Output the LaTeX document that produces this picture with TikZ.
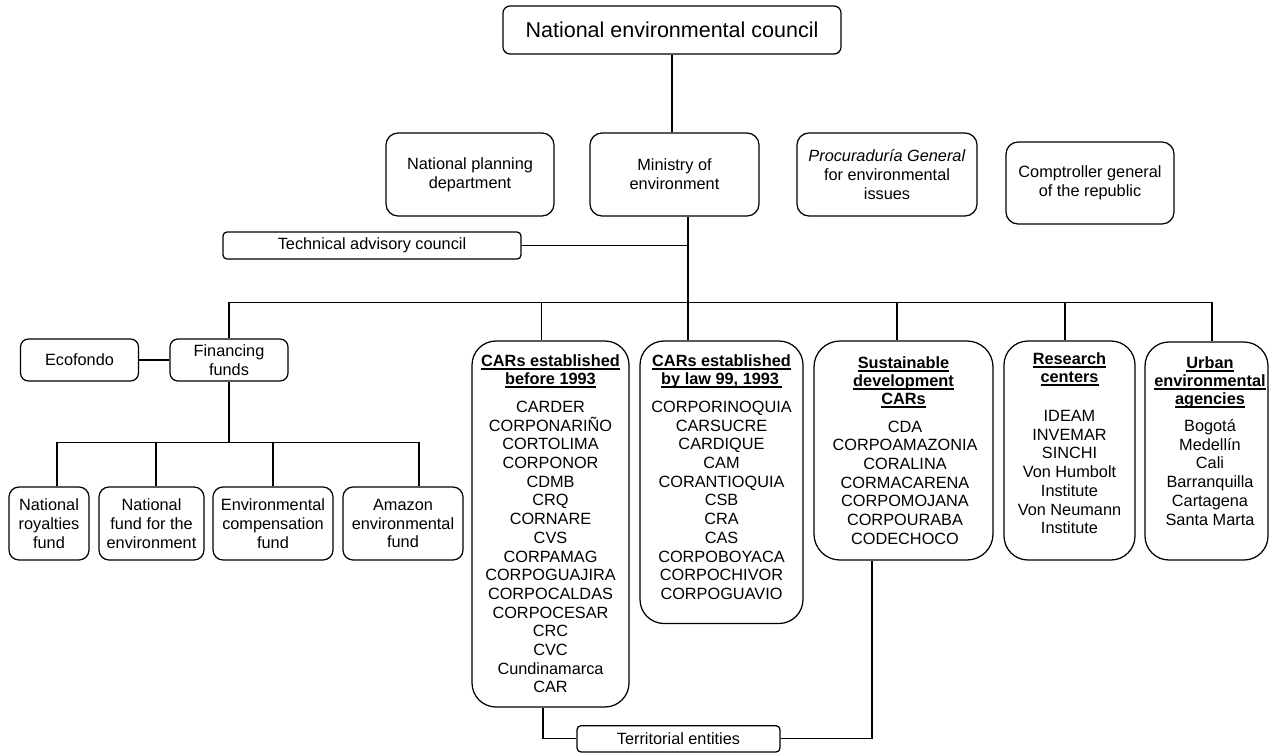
\documentclass[tikz,border=0pt]{standalone}
\usepackage{fontspec}
\setmainfont{Liberation Sans}
\newcommand{\myul}[1]{{\setbox0\hbox{#1}\rlap{\rule[-3.4pt]{\wd0}{1.5pt}}\box0}}
\newcommand{\bfnt}{\fontsize{16.3}{18.7}\selectfont}
\newcommand{\hfnt}{\fontsize{16.3}{18}\selectfont\bfseries}
\newcommand{\tfnt}{\fontsize{21.5}{24}\selectfont}
\newcommand{\fs}{\rule{0pt}{12pt}}
\begin{document}
\begin{tikzpicture}[x=1pt,y=-1pt,line width=1.25pt,
  box/.style={draw, rounded corners=#1, inner sep=0pt, align=center, font=\bfnt},
  box/.default=10,
  txt/.style={inner sep=0pt, align=center, anchor=north, font=\bfnt},
  hd/.style={inner sep=0pt, align=center, anchor=north, font=\hfnt}]
\useasboundingbox (0,0) rectangle (1269,753);

% top level
\node[box=7, font=\tfnt, minimum width=338, minimum height=48] (nec) at (672,30) {National environmental council};
\node[box=12, minimum width=168, minimum height=83] (npd) at (470,174.5) {National planning\\department};
\node[box=12, minimum width=169, minimum height=83] (moe) at (674.5,174.5) {Ministry of\\environment};
\node[box=12, minimum width=180, minimum height=83] (pge) at (887,174.5) {\textit{Procuraduría General}\\for environmental\\issues};
\node[box=12, minimum width=168, minimum height=82] (cgr) at (1090,183) {Comptroller general\\of the republic};
\node[box=4, minimum width=298, minimum height=27] (tac) at (372,245.5) {Technical advisory council};

% second level
\node[box=8, minimum width=118, minimum height=42] (ff) at (229,360) {Financing\\funds};
\node[box=8, minimum width=118, minimum height=42] (eco) at (79.5,360) {Ecofondo};

\node[box=10, minimum width=80, minimum height=73] (f1) at (49,523.5) {National\\royalties\\fund};
\node[box=10, minimum width=105, minimum height=73] (f2) at (151.5,523.5) {National\\fund for the\\environment};
\node[box=10, minimum width=120, minimum height=73] (f3) at (273,523.5) {Environmental\\compensation\\fund};
\node[box=10, minimum width=120, minimum height=73] (f4) at (403,523.5) {Amazon\\environmental\\fund};

% CAR boxes
\node[box=24, minimum width=157, minimum height=366] (carA) at (550.5,524) {};
\node[hd] (carAh) at (550.5,353.85) {\fs\myul{CARs established}\\\myul{before 1993}};
\node[txt] (carAl) at (550.5,399.85) {\fs CARDER\\CORPONARIÑO\\CORTOLIMA\\CORPONOR\\CDMB\\CRQ\\CORNARE\\CVS\\CORPAMAG\\CORPOGUAJIRA\\CORPOCALDAS\\CORPOCESAR\\CRC\\CVC\\Cundinamarca\\CAR};

\node[box=24, minimum width=163, minimum height=282.5] (carB) at (721.5,482.25) {};
\node[hd] (carBh) at (721.5,353.85) {\fs\myul{CARs established}\\\myul{by law 99, 1993\,}};
\node[txt] (carBl) at (721.5,399.85) {\fs CORPORINOQUIA\\CARSUCRE\\CARDIQUE\\CAM\\CORANTIOQUIA\\CSB\\CRA\\CAS\\CORPOBOYACA\\CORPOCHIVOR\\CORPOGUAVIO};

\node[box=26, minimum width=179, minimum height=219] (sdc) at (903.5,450.5) {};
\node[hd] (sdch) at (903.5,355.5) {\fs\myul{Sustainable}\\\myul{development}\\\myul{CARs}};
\node[txt] (sdcl) at (905,419.5) {\fs CDA\\CORPOAMAZONIA\\CORALINA\\CORMACARENA\\CORPOMOJANA\\CORPOURABA\\CODECHOCO};

\node[box=24, minimum width=131, minimum height=219] (rc) at (1069.5,450.5) {};
\node[hd] (rch) at (1069.5,351.9) {\fs\myul{Research}\\\myul{centers}};
\node[txt] (rcl) at (1069.5,408.9) {\fs IDEAM\\INVEMAR\\SINCHI\\Von Humbolt\\Institute\\Von Neumann\\Institute};

\node[box=24, minimum width=123, minimum height=218] (uea) at (1206.5,451) {};
\node[hd] (ueah) at (1210,355.5) {\fs\myul{Urban}\\\myul{environmental}\\\myul{agencies}};
\node[txt] (uear) at (1210,418.9) {\fs Bogotá\\Medellín\\Cali\\Barranquilla\\Cartagena\\Santa Marta};

\node[box=4, minimum width=203, minimum height=26.3] (te) at (678.5,738.85) {Territorial entities};

% junction coordinates
\coordinate (spine) at (688,246);
\coordinate (busL) at (229,302.7);
\coordinate (busR) at (1212,302.7);
\coordinate (bus2) at (0,442.7);

% connectors
\draw (nec.south) -- (nec.south |- moe.north);
\draw ([xshift=13.5pt]moe.south) -- ([xshift=13.5pt]moe.south |- carB.north);
\draw (tac.east) -- (tac.east -| spine);
\draw (ff.north) -- (ff.north |- busL) -- (busR) -- (busR |- uea.north);
\draw ([xshift=-8.8pt]carA.north) -- ([xshift=-8.8pt]carA.north |- busL);
\draw ([xshift=-6.5pt]sdc.north) -- ([xshift=-6.5pt]sdc.north |- busL);
\draw ([xshift=-4.5pt]rc.north) -- ([xshift=-4.5pt]rc.north |- busL);
\draw (eco.east) -- (ff.west);
\draw (ff.south) -- (ff.south |- bus2);
\draw ([xshift=8pt]f1.north) -- ([xshift=8pt]f1.north |- bus2) -- ([xshift=16pt]f4.north |- bus2) -- ([xshift=16pt]f4.north);
\draw ([xshift=4.5pt]f2.north) -- ([xshift=4.5pt]f2.north |- bus2);
\draw (f3.north) -- (f3.north |- bus2);
\draw ([xshift=-7.5pt]carA.south) |- (te.west);
\draw (te.east) -| ([xshift=-31.5pt]sdc.south);
\end{tikzpicture}
\end{document}
